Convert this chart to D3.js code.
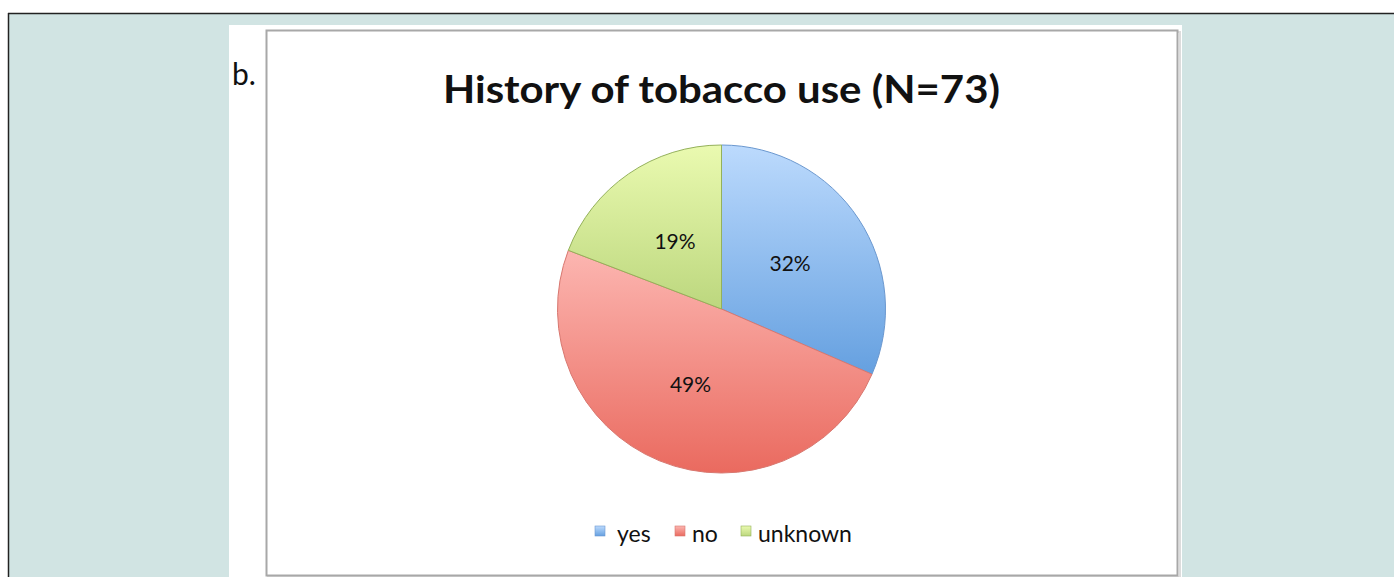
<!DOCTYPE html>
<html>
<head>
<meta charset="utf-8">
<script src="https://cdn.jsdelivr.net/npm/d3@7"></script>
<style>
  html, body { margin: 0; padding: 0; background: #fff; }
  svg { display: block; }
  text { font-family: Lato, "Open Sans", sans-serif; fill: #111; }
</style>
</head>
<body>
<div id="chart"></div>
<script>
// data
var categories = ["yes", "no", "unknown"];
var counts = [23, 36, 14];            // N = 73
var chartTitle = "History of tobacco use (N=73)";
var panelLabel = "b.";

// slice colours: [top, bottom, edge]
var palette = [
  ["#bcdafd", "#65a0e0", "#6b98cf"],
  ["#fcb6b1", "#ea6a5f", "#d8776f"],
  ["#eafab0", "#bcd77e", "#94b15a"]
];

var W = 1394, H = 577;
var svg = d3.select("#chart").append("svg")
  .attr("width", W).attr("height", H);

var defs = svg.append("defs");

// page background + rules
svg.append("rect").attr("x", 9).attr("y", 14).attr("width", W - 9).attr("height", H - 14)
  .attr("fill", "#d1e4e3");
svg.append("line").attr("x1", 8).attr("x2", W).attr("y1", 13.5).attr("y2", 13.5)
  .attr("stroke", "#222").attr("stroke-width", 1.5);
svg.append("line").attr("x1", 8.5).attr("x2", 8.5).attr("y1", 13).attr("y2", H)
  .attr("stroke", "#222").attr("stroke-width", 1.5);

// white figure panel
svg.append("rect").attr("x", 229).attr("y", 25).attr("width", 953).attr("height", H - 25)
  .attr("fill", "#fff");

// chart frame with soft shadow
svg.append("rect").attr("x", 268).attr("y", 32).attr("width", 912).attr("height", 545)
  .attr("fill", "none").attr("stroke", "#dcdcdc").attr("stroke-width", 2);
svg.append("rect").attr("x", 266.5).attr("y", 30.5).attr("width", 911).attr("height", 545)
  .attr("fill", "#fff").attr("stroke", "#a8a8a8").attr("stroke-width", 2);

svg.append("text").attr("x", 232).attr("y", 85)
  .style("font-size", "30px").text(panelLabel);

svg.append("text").attr("x", 443).attr("y", 103)
  .attr("textLength", 557).attr("lengthAdjust", "spacingAndGlyphs")
  .style("font-size", "38px").style("font-weight", 700)
  .text(chartTitle);

// gradients
palette.forEach(function(c, i) {
  var g = defs.append("linearGradient").attr("id", "grad" + i)
    .attr("x1", 0).attr("y1", 0).attr("x2", 0).attr("y2", 1);
  g.append("stop").attr("offset", "0%").attr("stop-color", c[0]);
  g.append("stop").attr("offset", "100%").attr("stop-color", c[1]);
});

// pie
var cx = 721.5, cy = 309, r = 164;
var total = d3.sum(counts);
var rows = categories.map(function(k, i) { return { cat: k, value: counts[i], idx: i }; });

var pie = d3.pie().sort(null).value(function(d) { return d.value; });
var arc = d3.arc().innerRadius(0).outerRadius(r);
var labelArc = d3.arc().innerRadius(r * 0.5).outerRadius(r * 0.5);
var pct = d3.format(".0%");

var g = svg.append("g").attr("transform", "translate(" + cx + "," + cy + ")");

g.selectAll("path.slice")
  .data(pie(rows))
  .enter()
  .append("path")
  .attr("class", "slice")
  .attr("d", arc)
  .attr("fill", function(d) { return "url(#grad" + d.data.idx + ")"; })
  .attr("stroke", function(d) { return palette[d.data.idx][2]; })
  .attr("stroke-width", 1)
  .attr("stroke-linejoin", "round");

g.selectAll("text.lbl")
  .data(pie(rows))
  .enter()
  .append("text")
  .attr("class", "lbl")
  .attr("transform", function(d) { return "translate(" + labelArc.centroid(d) + ")"; })
  .attr("text-anchor", "middle")
  .attr("dy", "0.35em")
  .style("font-size", "21px")
  .text(function(d) { return pct(d.data.value / total); });

// legend
var legendX = { yes: 595, no: 675, unknown: 741 };
var textGap = { yes: 22, no: 17, unknown: 17 };
var legend = svg.append("g");
rows.forEach(function(d) {
  var x0 = legendX[d.cat];
  legend.append("rect")
    .attr("x", x0).attr("y", 526).attr("width", 10).attr("height", 10)
    .attr("fill", "url(#grad" + d.idx + ")")
    .attr("stroke", palette[d.idx][2]).attr("stroke-width", 0.6);
  legend.append("text")
    .attr("x", x0 + textGap[d.cat]).attr("y", 542)
    .style("font-size", "23px")
    .text(d.cat);
});
</script>
</body>
</html>
